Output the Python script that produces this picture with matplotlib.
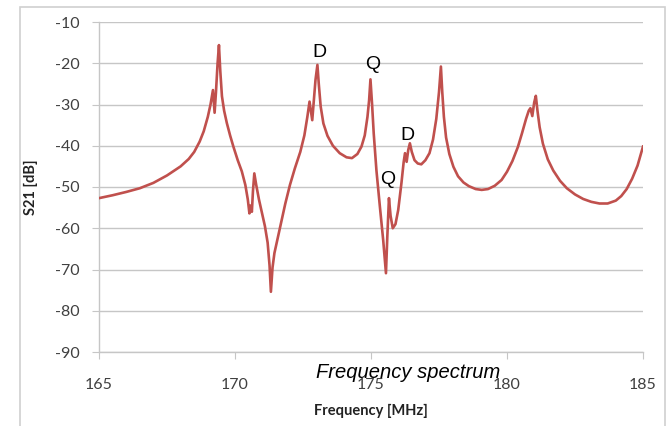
import matplotlib.pyplot as plt
from matplotlib.patches import Rectangle

plt.rcParams['axes.unicode_minus'] = False

# S21 transmission
freq_mhz = [165.0, 165.5, 166.0, 166.5, 167.0, 167.5, 168.0, 168.3, 168.5, 168.7,
            168.85, 169.0, 169.1, 169.19, 169.25, 169.3, 169.36, 169.41, 169.46, 169.52,
            169.6, 169.7, 169.82, 169.94, 170.1, 170.25, 170.38, 170.47, 170.53, 170.57,
            170.62, 170.66, 170.71, 170.78, 170.88, 171.0, 171.1, 171.2, 171.27, 171.32,
            171.38, 171.45, 171.55, 171.7, 171.85, 172.02, 172.2, 172.4, 172.55, 172.66,
            172.74, 172.8, 172.84, 172.9, 172.96, 173.03, 173.08, 173.15, 173.25, 173.4,
            173.6, 173.85, 174.1, 174.3, 174.5, 174.65, 174.77, 174.87, 174.93, 174.98,
            175.04, 175.1, 175.2, 175.33, 175.45, 175.55, 175.6, 175.66, 175.72, 175.8,
            175.9, 176.0, 176.12, 176.2, 176.25, 176.31, 176.37, 176.43, 176.5, 176.6,
            176.72, 176.85, 177.0, 177.15, 177.28, 177.4, 177.5, 177.57, 177.62, 177.68,
            177.76, 177.88, 178.03, 178.2, 178.4, 178.6, 178.85, 179.07, 179.3, 179.55,
            179.8, 180.0, 180.2, 180.4, 180.55, 180.7, 180.8, 180.86, 180.93, 181.0,
            181.06, 181.12, 181.2, 181.32, 181.5, 181.7, 181.95, 182.2, 182.5, 182.8,
            183.1, 183.4, 183.7, 184.0, 184.2, 184.4, 184.6, 184.8, 185.0]
s21_db = [-52.7, -52.0, -51.2, -50.3, -49.0, -47.2, -45.0, -43.2, -41.5, -39.0,
          -36.5, -33.0, -30.0, -26.5, -32.0, -27.0, -20.0, -15.6, -22.0, -28.0,
          -31.5, -34.5, -37.5, -40.2, -43.5, -46.2, -49.5, -53.0, -56.4, -54.5,
          -56.0, -51.0, -46.7, -49.5, -53.0, -56.5, -59.5, -63.5, -69.0, -75.4,
          -69.5, -66.0, -63.0, -58.5, -54.0, -49.5, -45.5, -41.5, -37.5, -33.0,
          -29.3, -32.0, -33.8, -29.0, -24.0, -20.4, -25.0, -30.5, -34.6, -37.6,
          -40.0, -41.8, -42.8, -43.0, -42.0, -40.2, -37.5, -33.0, -29.0, -23.9,
          -30.0, -37.0, -46.0, -55.0, -63.0, -70.9, -62.0, -52.7, -57.0, -60.0,
          -59.0, -55.6, -49.0, -44.0, -41.8, -43.9, -41.0, -39.4, -41.5, -43.5,
          -44.3, -44.5, -43.5, -41.8, -38.5, -33.5, -27.0, -20.8, -27.0, -33.0,
          -38.0, -42.0, -45.1, -47.4, -48.9, -49.8, -50.5, -50.7, -50.5, -49.7,
          -48.3, -46.3, -43.7, -40.3, -37.0, -33.5, -31.5, -30.9, -32.8, -29.5,
          -27.9, -31.5, -35.5, -39.5, -43.3, -46.0, -48.5, -50.3, -51.8, -52.9,
          -53.6, -54.0, -54.0, -53.3, -52.2, -50.5, -48.0, -44.8, -40.2]

# mode labels
mode_labels = ['D', 'Q', 'Q', 'D']
mode_x = [173.1, 175.05, 175.6, 176.35]
mode_y = [-17.4, -20.4, -48.3, -37.4]

x_ticks = [165, 170, 175, 180, 185]
y_ticks = [-90, -80, -70, -60, -50, -40, -30, -20, -10]

grid_col = '#c6c6c6'

fig = plt.figure(figsize=(6.7, 4.26), dpi=100)
fig.patches.append(Rectangle((20 / 670, -0.1), 645 / 670, 1.1 - 7 / 426,
                             transform=fig.transFigure, fill=False,
                             edgecolor='#d0d0d0', linewidth=1.2))
ax = fig.add_axes([99 / 670, 74 / 426, 544 / 670, 330 / 426])

ax.plot(freq_mhz, s21_db, color='#c0504d', linewidth=1.9, zorder=3)

ax.set_xlim(165, 185)
ax.set_ylim(-90, -10)
ax.set_xticks(x_ticks)
ax.set_yticks(y_ticks)
ax.grid(axis='y', color=grid_col, linewidth=1.0)
ax.set_axisbelow(True)

for side in ['top', 'right']:
    ax.spines[side].set_visible(False)
for side in ['left', 'bottom']:
    ax.spines[side].set_color(grid_col)
    ax.spines[side].set_linewidth(1.0)

ax.tick_params(axis='y', length=5, color=grid_col, pad=9, labelsize=11.5,
               labelcolor='#404040')
ax.tick_params(axis='x', length=5, color=grid_col, pad=14, labelsize=11.5,
               labelcolor='#404040')
for lab in ax.get_xticklabels() + ax.get_yticklabels():
    lab.set_family('Lato')

for txt, xv, yv in zip(mode_labels, mode_x, mode_y):
    ax.text(xv, yv, txt, ha='center', va='center', fontsize=14,
            family='Liberation Sans', color='black')

ax.set_ylabel('S21 [dB]', family='Lato', fontweight='bold', fontsize=10.5,
              color='#222222', labelpad=12)
ax.set_xlabel('Frequency [MHz]', family='Lato', fontweight='bold', fontsize=10.5,
              color='#222222', labelpad=8)

fig.text(408 / 670, 1 - 373 / 426, 'Frequency spectrum', ha='center', va='center',
         fontsize=14.5, style='italic', family='Liberation Sans', color='black')

plt.savefig('out.png', dpi=100)
